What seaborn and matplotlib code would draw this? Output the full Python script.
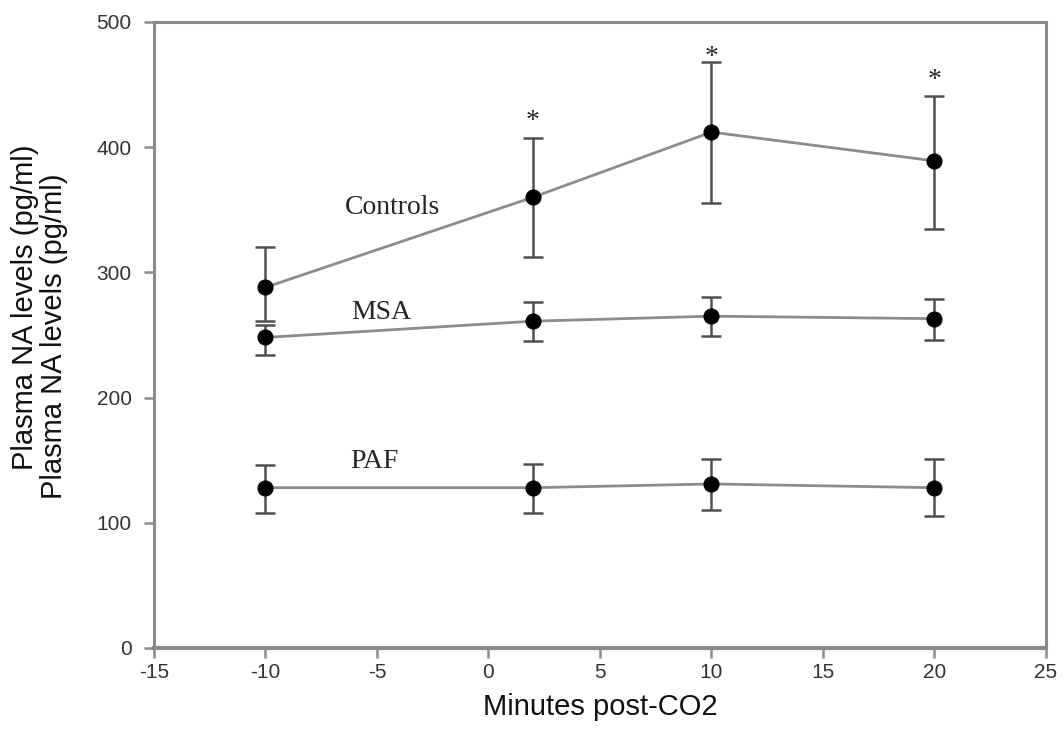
import matplotlib
matplotlib.use("Agg")
import matplotlib.pyplot as plt
import seaborn as sns
import pandas as pd

# --- DATA ---
minutes = [-10, 2, 10, 20]

controls = [288, 360, 412, 389]
controls_lo = [27, 48, 57, 54]
controls_hi = [32, 47, 56, 52]

msa = [248, 261, 265, 263]
msa_lo = [14, 16, 16, 17]
msa_hi = [10, 15, 15, 16]

paf = [128, 128, 131, 128]
paf_lo = [20, 20, 21, 23]
paf_hi = [18, 19, 20, 23]

star_x = [2, 10, 20]
star_y = [427, 478, 460]

group_names = ["Controls", "MSA", "PAF"]
label_x = [-4.3, -4.8, -5.1]
label_y = [352, 268, 149]

# --- STYLE ---
sns.set_style("ticks")
plt.rcParams["font.family"] = ["Liberation Sans", "DejaVu Sans"]
plt.rcParams["axes.unicode_minus"] = False
SPINE = "#8a8a8a"

df = pd.DataFrame(
    {
        "Minutes": minutes * 3,
        "NA": controls + msa + paf,
        "Group": ["Controls"] * 4 + ["MSA"] * 4 + ["PAF"] * 4,
    }
)

fig = plt.figure(figsize=(10.64, 7.56), dpi=100)
ax = fig.add_axes([0.1447, 0.1429, 0.8383, 0.8281])

# connecting lines (gray) + black markers
sns.lineplot(
    data=df,
    x="Minutes",
    y="NA",
    units="Group",
    estimator=None,
    color="#8c8c8c",
    linewidth=2,
    ax=ax,
    zorder=2,
)
sns.scatterplot(data=df, x="Minutes", y="NA", color="black", s=115,
                edgecolor="black", ax=ax, zorder=4)

for vals, lo, hi in [(controls, controls_lo, controls_hi),
                     (msa, msa_lo, msa_hi),
                     (paf, paf_lo, paf_hi)]:
    ax.errorbar(minutes, vals, yerr=[lo, hi], fmt="none", ecolor="#505050",
                elinewidth=1.8, capsize=7, capthick=1.8, zorder=3)

for x, y in zip(star_x, star_y):
    ax.text(x, y - 12, "*", ha="center", va="baseline", fontsize=20,
            family=["Liberation Serif", "DejaVu Serif"])

for name, x, y in zip(group_names, label_x, label_y):
    ax.text(x, y, name, ha="center", va="center", fontsize=20,
            family=["Liberation Serif", "DejaVu Serif"])

ax.set_xlim(-15, 25)
ax.set_ylim(0, 500)
ax.set_xticks(range(-15, 26, 5))
ax.set_yticks(range(0, 501, 100))
ax.set_xlabel("")
ax.set_ylabel("")
ax.tick_params(labelsize=15, colors="#333333", length=7, width=1.8,
               color=SPINE, direction="out")
ax.tick_params(axis="x", pad=4)
ax.tick_params(axis="y", pad=9)
for side in ["top", "right", "bottom", "left"]:
    ax.spines[side].set_visible(True)
    ax.spines[side].set_color(SPINE)
    ax.spines[side].set_linewidth(2.2)
ax.spines["bottom"].set_linewidth(3)

# axis titles (the y title is printed twice, slightly offset, as in the original)
fig.text(600 / 1064, 1 - 707 / 756, "Minutes post-CO2", ha="center",
         va="center", fontsize=21, color="#111111")
fig.text(25 / 1064, 1 - 307 / 756, "Plasma NA levels (pg/ml)", rotation=90,
         ha="center", va="center", fontsize=21, color="#111111")
fig.text(54 / 1064, 1 - 336 / 756, "Plasma NA levels (pg/ml)", rotation=90,
         ha="center", va="center", fontsize=21, color="#111111",
         bbox=dict(facecolor="white", edgecolor="none", pad=0))

fig.savefig("out.png", dpi=100)
